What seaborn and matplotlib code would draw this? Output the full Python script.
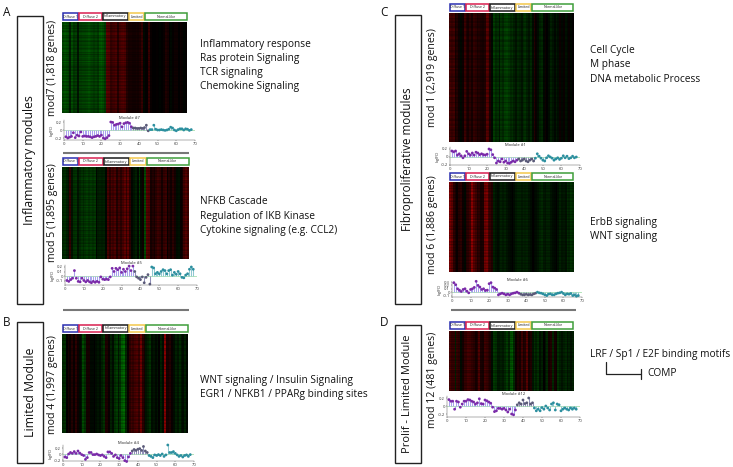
import numpy as np
import pandas as pd
import matplotlib
matplotlib.use('Agg')
import matplotlib.pyplot as plt
from matplotlib.colors import LinearSegmentedColormap
from matplotlib.patches import Rectangle
import seaborn as sns

# Mean log ratio per sample
mod7 = [-0.17,-0.2,-0.18,-0.16,-0.07,-0.19,-0.13,-0.15,-0.05,-0.16,-0.15,-0.16,-0.16,-0.17,-0.19,-0.17,-0.16,-0.14,-0.16,-0.13,-0.2,-0.22,-0.19,-0.14,
        0.2,0.19,0.12,0.14,0.15,0.17,0.08,0.16,0.18,0.19,0.17,0.08,
        0.05,0.05,0.04,0.04,0.05,0.04,0.06,0.12,-0.02,
        0.01,0.01,0.12,0.02,0.0,0.0,0.01,0.0,-0.01,0.0,0.02,0.07,0.05,0.0,-0.02,0.01,0.03,0.03,0.0,0.03,0.02,-0.01,0.01]
mod5 = [-0.1,-0.12,-0.08,-0.05,0.12,-0.05,-0.12,-0.13,-0.05,-0.1,-0.13,-0.1,-0.13,-0.15,-0.12,-0.14,-0.12,-0.14,-0.02,-0.07,-0.08,-0.07,-0.08,-0.02,
        0.17,0.1,0.17,0.14,0.18,0.08,0.15,0.1,0.16,0.22,0.12,0.22,
        0.1,-0.02,-0.05,-0.08,-0.02,-0.15,-0.03,0.03,-0.18,
        0.2,0.18,0.05,0.08,0.05,0.1,0.14,0.12,0.05,0.12,0.14,0.02,0.08,0.04,0.1,0.05,-0.03,-0.04,0.02,0.05,0.15,0.2,0.15]
mod4 = [-0.1,-0.12,0.0,0.05,0.02,0.08,0.02,0.1,0.03,-0.02,-0.05,-0.18,-0.12,0.05,0.05,-0.02,-0.02,0.0,-0.03,-0.05,-0.03,-0.08,-0.12,0.07,
        0.07,0.02,-0.08,-0.03,-0.12,-0.15,-0.05,-0.12,-0.22,-0.25,-0.1,0.02,
        0.1,0.15,0.12,0.16,0.18,0.12,0.25,0.1,0.05,
        -0.05,-0.08,-0.12,-0.03,-0.05,-0.02,-0.05,0.0,-0.08,-0.03,0.3,0.05,0.05,0.08,0.02,-0.03,-0.08,-0.05,-0.1,-0.05,-0.03,-0.08,-0.02]
mod1 = [0.15,0.13,0.15,0.05,0.08,0.03,-0.02,0.03,0.14,0.08,0.05,0.1,0.05,0.12,0.1,0.06,0.08,0.06,0.05,0.07,0.2,0.18,0.06,-0.02,
        -0.15,-0.1,-0.12,-0.05,-0.13,-0.1,-0.15,-0.16,-0.13,-0.1,-0.12,-0.08,
        -0.05,-0.1,-0.08,-0.05,-0.1,-0.12,-0.08,-0.05,-0.1,
        -0.03,0.08,0.02,-0.03,-0.08,-0.1,-0.02,0.03,0.0,-0.03,-0.08,-0.05,-0.02,-0.06,-0.03,0.03,-0.02,0.02,-0.04,-0.02,0.02,-0.02,0.0]
mod6 = [0.28,0.22,0.1,0.06,0.02,0.08,0.1,0.03,-0.02,0.08,0.1,0.14,0.32,0.2,0.15,0.08,0.1,0.05,0.06,0.25,0.28,0.15,0.12,0.08,
        -0.08,-0.05,-0.03,-0.05,-0.08,-0.06,-0.08,-0.05,-0.03,-0.02,0.0,-0.03,
        -0.06,-0.08,-0.08,-0.06,-0.08,-0.07,-0.08,-0.05,-0.03,
        0.0,-0.02,-0.03,-0.05,-0.08,-0.1,-0.06,-0.05,-0.08,-0.08,-0.05,-0.03,-0.02,0.0,-0.04,-0.08,-0.05,-0.06,-0.04,-0.1,-0.08,-0.12,-0.1]
mod12 = [0.16,0.12,0.12,-0.08,0.12,0.1,-0.03,0.05,0.12,0.12,0.16,0.15,0.12,0.1,0.05,0.08,0.18,0.06,0.05,0.15,0.13,0.1,0.07,-0.03,
         -0.14,-0.12,-0.06,-0.06,-0.08,-0.06,-0.1,-0.15,-0.08,-0.2,-0.22,-0.1,
         0.03,0.08,0.05,0.15,0.06,0.08,0.2,0.05,0.08,
         -0.05,-0.12,-0.08,-0.12,-0.04,-0.08,0.0,-0.05,-0.1,0.05,0.08,-0.1,0.05,0.03,-0.12,-0.08,-0.05,-0.08,-0.1,-0.05,-0.08,-0.05,-0.08]

# Row-to-row strength of the module pattern (heatmap banding)
row_gain = [1.1,0.95,1.2,0.9,1.05,0.85,1.15,1.0,0.8,1.1,1.25,0.9,1.0,0.85,1.05,1.2,0.95,0.8,1.1,1.0,
            0.9,1.15,1.05,0.85,1.0,1.2,0.9,1.1,0.8,1.05,0.95,1.15,1.0,0.85,1.25,0.9,1.1,1.0,0.95,0.8,
            1.05,0.9,0.8,1.15,1.0,0.95,1.2,0.85,1.1,0.9,1.0,1.25,0.85,0.95,1.1,0.8,1.05,1.15,0.9,1.0,
            0.85,1.2,1.0,0.9,1.1,0.95,0.8,1.15,1.05,0.9,1.2,1.0,0.85,1.1,0.95,1.05,0.8,1.15,1.0,0.9]

subsets = ['Diffuse 1', 'Diffuse 2', 'Inflammatory', 'Limited', 'Normal-like']
subset_sizes = [9, 13, 14, 9, 23]
subset_colors = ['#2b2fb0', '#d81f4f', '#1a1a1a', '#f2c84b', '#3f9e3a']
sample_groups = ['Diffuse 1'] * 9 + ['Diffuse 2'] * 13 + ['Inflammatory'] * 14 + ['Limited'] * 9 + ['Normal-like'] * 23

red_green = LinearSegmentedColormap.from_list('rg', ['#00c800', '#000000', '#d80000'])
point_colors = {'Diffuse 1': '#7a2aa8', 'Diffuse 2': '#7a2aa8', 'Inflammatory': '#7a2aa8', 'Limited': '#5a5a78', 'Normal-like': '#2c8f9f'}
stem_colors = {'Diffuse 1': '#a9a2ee', 'Diffuse 2': '#a9a2ee', 'Inflammatory': '#a9a2ee', 'Limited': '#9090b8', 'Normal-like': '#8fc8d0'}

W, H = 733, 467
sns.set_style('white')
plt.rcParams['font.family'] = ['Open Sans', 'DejaVu Sans']
fig = plt.figure(figsize=(W / 100, H / 100), dpi=100)


def px_axes(x0, y0, x1, y1):
    return fig.add_axes([x0 / W, 1 - y1 / H, (x1 - x0) / W, (y1 - y0) / H])


overlay = fig.add_axes([0, 0, 1, 1], zorder=5)
overlay.set_xlim(0, W)
overlay.set_ylim(H, 0)
overlay.axis('off')


def module_panel(values, name, x0, x1, head_top, heat_top, heat_bot, lx0, lx70, ltop, lzero, lbot, per_unit, ticks, ylabel='log(FC)'):
    # header boxes
    pos = x0
    step = (x1 - x0) / sum(subset_sizes)
    for label, size, color in zip(subsets, subset_sizes, subset_colors):
        w = size * step
        overlay.add_patch(Rectangle((pos + 0.5, head_top), w - 1, heat_top - head_top - 2, fill=False, ec=color, lw=1.1))
        overlay.text(pos + w / 2, head_top + (heat_top - head_top - 2) / 2, label, fontsize=2.6, ha='center', va='center', color='#222222')
        pos += w

    # heatmap
    vals = np.array(values)
    ax = px_axes(x0, heat_top, x1, heat_bot)
    sns.heatmap(np.outer(row_gain, vals), ax=ax, cmap=red_green, vmin=-0.55, vmax=0.55, cbar=False,
                xticklabels=False, yticklabels=False)

    # lollipops
    ax2 = px_axes(lx0, ltop, lx70, lbot)
    df = pd.DataFrame({'sample': np.arange(1, len(vals) + 1), 'value': vals, 'group': sample_groups})
    ax2.axhline(0, color='#a8e0b0', lw=0.6, zorder=1)
    ax2.vlines(df['sample'], 0, df['value'], colors=[stem_colors[g] for g in df['group']], lw=0.75, zorder=2)
    sns.scatterplot(data=df, x='sample', y='value', hue='group', palette=point_colors, s=4, linewidth=0,
                    legend=False, ax=ax2, zorder=3, clip_on=False)
    sns.despine(ax=ax2)
    ax2.set_xlim(0, 70)
    ax2.set_ylim((lzero - lbot) / per_unit, (lzero - ltop) / per_unit)
    ax2.set_xticks(range(0, 71, 10))
    ax2.set_yticks(ticks)
    ax2.set_yticklabels([f'{t:g}' for t in ticks])
    ax2.tick_params(length=1, width=0.3, labelsize=3, pad=0.6, colors='#333333', bottom=True, left=True)
    for side in ['left', 'bottom']:
        ax2.spines[side].set_linewidth(0.3)
        ax2.spines[side].set_color('#444444')
    ax2.set_xlabel('')
    ax2.set_ylabel(ylabel, fontsize=2.6, labelpad=0.8)
    ax2.set_title(name, fontsize=3, pad=0.8, color='#222222')


module_panel(mod7, 'Module #7', 62, 187, 13, 22, 113, 64, 195, 120, 130, 140, 40, [-0.2, 0, 0.2])
module_panel(mod5, 'Module #5', 62, 189, 158, 167, 259, 65, 197, 265, 276, 285, 45, [-0.1, 0, 0.1, 0.2])
module_panel(mod4, 'Module #4', 62, 188, 325, 334, 433, 63, 194, 445, 454, 461, 30, [-0.2, 0, 0.2])
module_panel(mod1, 'Module #1', 449, 574, 4, 13, 142, 450, 580, 147, 157, 165, 40, [-0.2, 0, 0.2])
module_panel(mod6, 'Module #6', 449, 574, 173, 182, 272, 452, 582, 282, 292, 297, 35, [-0.1, 0, 0.1, 0.2, 0.3])
module_panel(mod12, 'Module #12', 449, 574, 322, 331, 391, 447, 580, 396, 406, 417, 40, [-0.2, 0, 0.2], ylabel='')

# separators
for x0, x1, y in [(63, 189, 153), (63, 189, 310), (451, 576, 310)]:
    overlay.plot([x0, x1], [y, y], color='#777777', lw=1.5, solid_capstyle='butt')

# group boxes
for x0, y0, y1, label, size in [(17, 16, 304, 'Inflammatory modules', 8.8), (17, 322, 463, 'Limited Module', 8.8),
                                (395, 15, 304, 'Fibroproliferative modules', 8.4), (395, 325, 463, 'Prolif - Limited Module', 8.0)]:
    overlay.add_patch(Rectangle((x0, y0), 26, y1 - y0, fill=False, ec='#222222', lw=1.0))
    overlay.text(x0 + 13, (y0 + y1) / 2, label, rotation=90, fontsize=size, ha='center', va='center', color='#111111')

for x, y, label in [(7, 12, 'A'), (7, 323, 'B'), (384, 12, 'C'), (384, 323, 'D')]:
    overlay.text(x, y, label, fontsize=8.5, ha='center', va='center', color='#111111')

for x, y, label in [(52, 68, 'mod7 (1,818 genes)'), (52, 213, 'mod 5 (1,895 genes)'), (52, 385, 'mod 4 (1,997 genes)'),
                    (432, 78, 'mod 1 (2,919 genes)'), (432, 225, 'mod 6 (1,886 genes)'), (432, 380, 'mod 12 (481 genes)')]:
    overlay.text(x, y, label, rotation=90, fontsize=7.6, ha='center', va='center', color='#111111')

notes = [(200, 44, 'Inflammatory response'), (200, 58, 'Ras protein Signaling'), (200, 72, 'TCR signaling'), (200, 86, 'Chemokine Signaling'),
         (200, 202, 'NFKB Cascade'), (200, 216, 'Regulation of IKB Kinase'), (200, 230, 'Cytokine signaling (e.g. CCL2)'),
         (200, 380, 'WNT signaling / Insulin Signaling'), (200, 394, 'EGR1 / NFKB1 / PPARg binding sites'),
         (590, 51, 'Cell Cycle'), (590, 65, 'M phase'), (590, 79, 'DNA metabolic Process'),
         (590, 222, 'ErbB signaling'), (590, 236, 'WNT signaling'),
         (590, 354, 'LRF / Sp1 / E2F binding motifs'), (647, 374, 'COMP')]
for x, y, label in notes:
    overlay.text(x, y, label, fontsize=7.3, ha='left', va='center', color='#111111')

# inhibition arrow next to COMP
overlay.plot([606, 606, 641], [362, 374, 374], color='#222222', lw=0.9)
overlay.plot([641, 641], [369, 379], color='#222222', lw=0.9)

fig.savefig('out.png', dpi=100)
